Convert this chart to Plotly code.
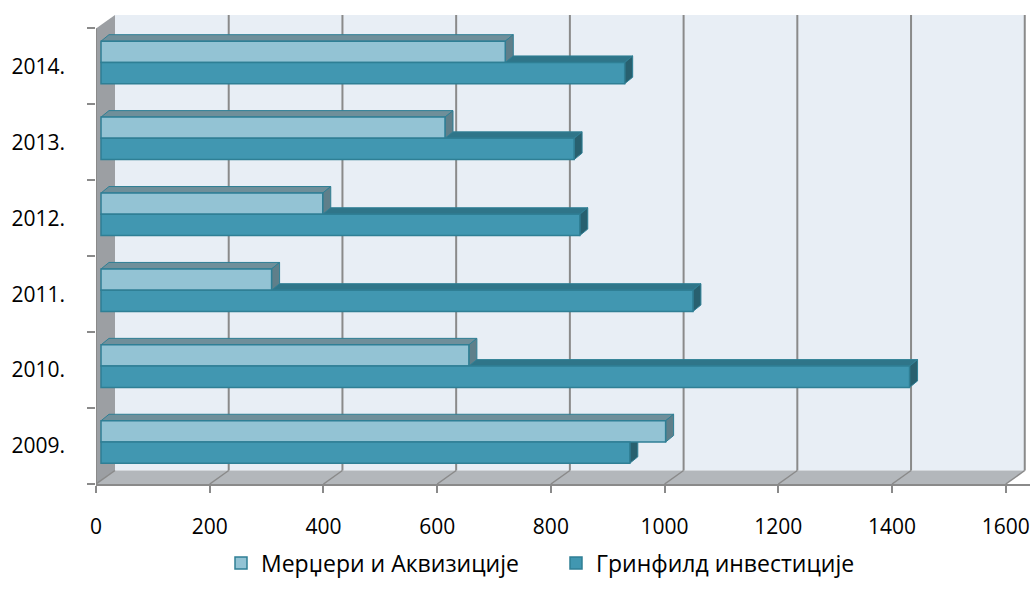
import plotly.graph_objects as go

# Data
years = ["2009.", "2010.", "2011.", "2012.", "2013.", "2014."]
mergers = [993, 647, 300, 390, 605, 711]          # Мерџери и Аквизиције
greenfield = [930, 1422, 1041, 842, 832, 921]     # Гринфилд инвестиције
x_ticks = [0, 200, 400, 600, 800, 1000, 1200, 1400, 1600]
series_names = ["Мерџери и Аквизиције", "Гринфилд инвестиције"]

# Canvas / scale setup (pixel-per-unit for the oblique 3-D look)
W, H = 1035, 593
ML, MR, MT, MB = 96, 5, 10, 109
PX_X = 0.5686            # pixels per value unit
PX_Y = 75.92             # pixels per category band
plot_w = W - ML - MR
plot_h = H - MT - MB
x_range = [0, plot_w / PX_X]
y_range = [-0.5, -0.5 + plot_h / PX_Y]


def depth(dx_px, dy_px):
    """Oblique offset converted from pixels to data units."""
    return dx_px / PX_X, dy_px / PX_Y


WALL_DX, WALL_DY = depth(19, 13.5)       # back wall depth
FACE_DX, FACE_DY = depth(5, 4.0)         # bar front-face depth
BAR_DX, BAR_DY = depth(8, 6.5)           # bar thickness
BAR_H = 0.28                             # bar height in category units
X_MAX = x_ticks[-1]
Y_LO, Y_HI = -0.5, len(years) - 0.5

GRID = "#8a8a8a"
BACK_WALL = "#e8eef5"
SIDE_WALL = "#9c9fa3"
FLOOR = "#b3b7bb"
EDGE = "#2f7f95"
LIGHT = dict(front="#93c3d4", top="#6f8f9a", side="#5f7f8a")
DARK = dict(front="#4197b1", top="#2f7589", side="#28606f")


def poly(points):
    return "M " + " L ".join(f"{x},{y}" for x, y in points) + " Z"


shapes = []

# Back wall
shapes.append(dict(type="path", layer="below", line=dict(width=0), fillcolor=BACK_WALL,
                   path=poly([(WALL_DX, Y_LO + WALL_DY), (X_MAX + WALL_DX, Y_LO + WALL_DY),
                              (X_MAX + WALL_DX, Y_HI + WALL_DY), (WALL_DX, Y_HI + WALL_DY)])))
# Left wall
shapes.append(dict(type="path", layer="below", line=dict(width=0), fillcolor=SIDE_WALL,
                   path=poly([(0, Y_LO), (0, Y_HI), (WALL_DX, Y_HI + WALL_DY),
                              (WALL_DX, Y_LO + WALL_DY)])))
# Floor
shapes.append(dict(type="path", layer="below", line=dict(width=0), fillcolor=FLOOR,
                   path=poly([(0, Y_LO), (X_MAX, Y_LO), (X_MAX + WALL_DX, Y_LO + WALL_DY),
                              (WALL_DX, Y_LO + WALL_DY)])))
# Gridlines: vertical on back wall, diagonal across the floor
for xv in x_ticks:
    if xv > 0:
        shapes.append(dict(type="line", layer="below", line=dict(color=GRID, width=2),
                           x0=xv + WALL_DX, x1=xv + WALL_DX,
                           y0=Y_LO + WALL_DY, y1=Y_HI + WALL_DY))
    shapes.append(dict(type="line", layer="below", line=dict(color=GRID, width=1.5),
                       x0=xv, y0=Y_LO, x1=xv + WALL_DX, y1=Y_LO + WALL_DY))
# Front vertical edge of the left wall (value axis origin)
shapes.append(dict(type="line", layer="below", line=dict(color=GRID, width=2),
                   x0=0, x1=0, y0=Y_LO, y1=Y_HI))

# Top and side faces of each bar (front faces are the bar traces)
def bar_faces(values, y_bottom_shift, colors):
    for i, v in enumerate(values):
        y0 = i + y_bottom_shift
        y1 = y0 + BAR_H
        x0 = FACE_DX
        x1 = FACE_DX + v
        shapes.append(dict(type="path", layer="below", fillcolor=colors["top"],
                           line=dict(color=EDGE, width=1),
                           path=poly([(x0, y1), (x1, y1), (x1 + BAR_DX, y1 + BAR_DY),
                                      (x0 + BAR_DX, y1 + BAR_DY)])))
        shapes.append(dict(type="path", layer="below", fillcolor=colors["side"],
                           line=dict(color=EDGE, width=1),
                           path=poly([(x1, y0), (x1, y1), (x1 + BAR_DX, y1 + BAR_DY),
                                      (x1 + BAR_DX, y0 + BAR_DY)])))


split = FACE_DY  # boundary between the two bars of a year, relative to band centre
bar_faces(greenfield, split - BAR_H, DARK)
bar_faces(mergers, split, LIGHT)

idx = list(range(len(years)))
fig = go.Figure()
fig.add_trace(go.Bar(
    name=series_names[0], orientation="h",
    y=[i + split + BAR_H / 2 for i in idx], x=mergers, base=[FACE_DX] * len(idx),
    width=BAR_H, marker=dict(color=LIGHT["front"], line=dict(color=EDGE, width=1.5)),
))
fig.add_trace(go.Bar(
    name=series_names[1], orientation="h",
    y=[i + split - BAR_H / 2 for i in idx], x=greenfield, base=[FACE_DX] * len(idx),
    width=BAR_H, marker=dict(color=DARK["front"], line=dict(color=EDGE, width=1.5)),
))

FONT = "Open Sans, sans-serif"
fig.update_layout(
    width=W, height=H,
    margin=dict(l=ML, r=MR, t=MT, b=MB, pad=0),
    paper_bgcolor="white", plot_bgcolor="white",
    barmode="overlay",
    shapes=shapes,
    font=dict(family=FONT, size=21, color="#000000"),
    showlegend=True,
    legend=dict(orientation="h", x=0.5 - 7 / plot_w, xanchor="center", y=-79 / plot_h,
                yanchor="middle", itemwidth=30, entrywidth=290,
                font=dict(family=FONT, size=23), traceorder="normal",
                bgcolor="rgba(0,0,0,0)"),
    xaxis=dict(range=x_range, tickvals=x_ticks, ticktext=[str(t) for t in x_ticks],
               showgrid=False, zeroline=False, showline=True, linecolor=GRID, linewidth=2,
               ticks="outside", ticklen=7, tickwidth=1.5, tickcolor=GRID,
               ticklabelstandoff=16, tickfont=dict(size=21), fixedrange=True),
    yaxis=dict(range=y_range, tickvals=idx, ticktext=years, showgrid=False, zeroline=False,
               showline=False, ticks="", ticklabelstandoff=30, tickfont=dict(size=21),
               minor=dict(tickvals=[i - 0.5 for i in range(len(years) + 1)], ticks="outside",
                          ticklen=8, tickwidth=1.5, tickcolor=GRID, showgrid=False),
               fixedrange=True),
)

fig.write_html("out.html")
